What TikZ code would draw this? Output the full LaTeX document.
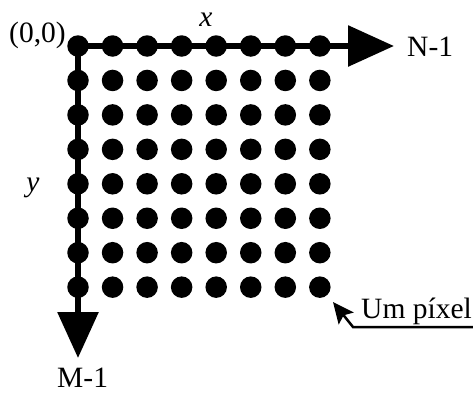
\documentclass[tikz,border=0pt]{standalone}
\usepackage{fontspec}
\setmainfont{Liberation Serif}
\usetikzlibrary{arrows.meta}
\begin{document}
\begin{tikzpicture}[x=1pt,y=-1pt,
  dot/.style={circle,fill=black,inner sep=0pt,minimum size=21.5pt},
  axis/.style={line width=6pt,-{Triangle[length=46pt,width=40pt]}},
  pointer/.style={line width=2.5pt,-{Stealth[length=21pt,width=19pt,inset=4pt]}},
  lbl/.style={font=\fontsize{29.5}{33}\selectfont,inner sep=0pt}]
\useasboundingbox (0,0) rectangle (473,394);
\coordinate (o) at (78,46);
\coordinate (xend) at (394,46);
\coordinate (yend) at (78,358);
\draw[axis] (o) -- (xend);
\draw[axis] (o) -- (yend);
\foreach \i in {0,...,7}{
  \foreach \j in {0,...,7}{
    \node[dot] (d\i\j) at ({78+34.55*\i},{46+34.45*\j}) {};
  }
}
\coordinate (pstart) at (474,327);
\coordinate (pbend) at (353,327);
\coordinate (ptip) at (333,302);
\draw[pointer] (pstart) -- (pbend) -- (ptip);
\node[lbl,anchor=base west] (origin) at (9,42) {(0,0)};
\node[lbl,anchor=base] (xl) at (206,26) {\itshape x};
\node[lbl,anchor=base west] (nl) at (407,56) {N-1};
\node[lbl,anchor=base] (yl) at (33,191) {\itshape y};
\node[lbl,anchor=base west] (ml) at (57,387) {M-1};
\node[lbl,anchor=base west] (pl) at (361,318) {Um píxel};
\end{tikzpicture}
\end{document}
